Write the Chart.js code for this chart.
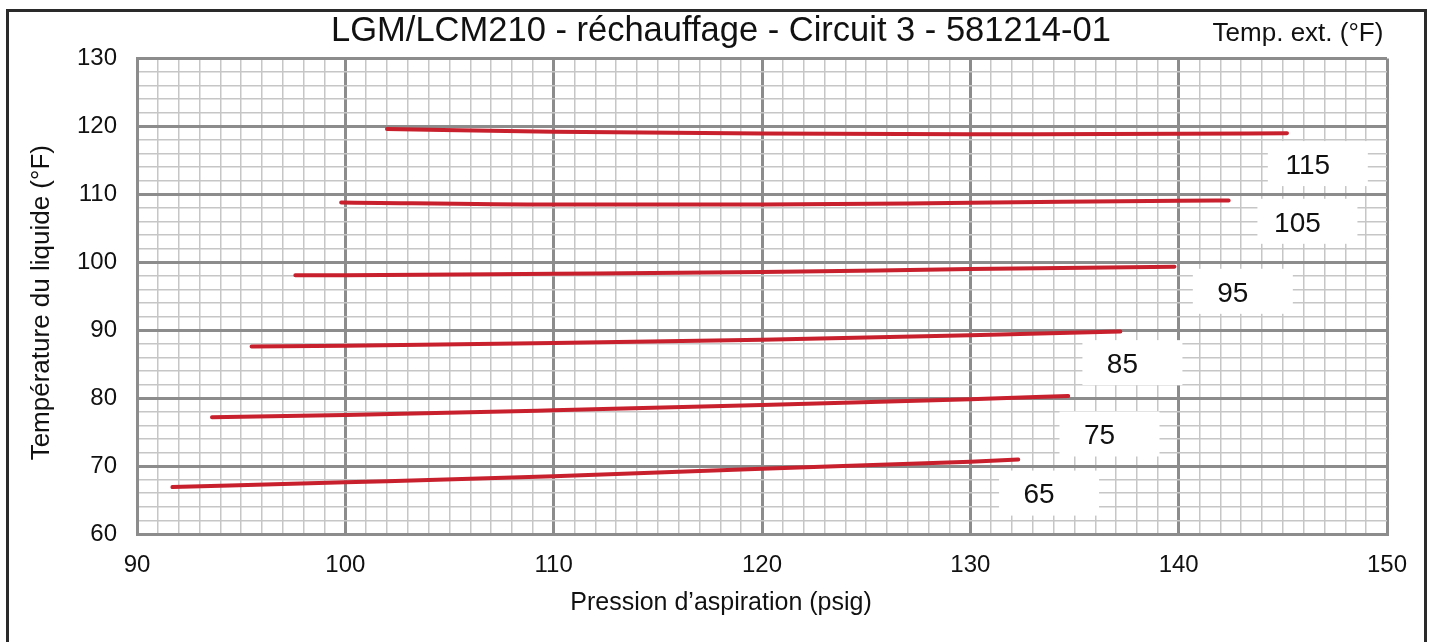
<!DOCTYPE html>
<html>
<head>
<meta charset="utf-8">
<script src="https://cdn.jsdelivr.net/npm/chart.js@4"></script>
<style>
  body { margin: 0; background: #fff; }
  #wrap { width: 1434px; height: 642px; }
</style>
</head>
<body>
<div id="wrap"><canvas id="myChart" width="1434" height="642"></canvas></div>
<script>
// curves: suction pressure (psig) -> liquid temperature (°F)
const p65 = [91.7, 100, 110, 120, 130, 132.3];
const t65 = [66.9, 67.6, 68.5, 69.6, 70.65, 70.95];
const p75 = [93.6, 100, 110, 120, 130, 134.7];
const t75 = [77.2, 77.5, 78.2, 79.0, 79.85, 80.3];
const p85 = [95.5, 100, 110, 120, 130, 137.2];
const t85 = [87.6, 87.7, 88.1, 88.6, 89.25, 89.8];
const p95 = [97.6, 100, 110, 120, 130, 139.8];
const t95 = [98.1, 98.1, 98.3, 98.55, 99.0, 99.35];
const p105 = [99.8, 110, 120, 130, 140, 142.4];
const t105 = [108.8, 108.5, 108.5, 108.75, 109.05, 109.1];
const p115 = [102.0, 110, 120, 130, 140, 145.2];
const t115 = [119.6, 119.2, 118.95, 118.85, 118.9, 119.0];

// outdoor temperature tags and where they sit (data units)
const tagNames = ['65', '75', '85', '95', '105', '115'];
const tagX = [133.3, 136.2, 137.3, 142.6, 145.7, 146.2];
const tagY = [65.8, 74.5, 85.0, 95.5, 105.8, 114.3];

const FONT = "'Liberation Sans', Arial, sans-serif";
const RED = '#c8202d';
const MAJOR = '#8c8c8c';
const MINOR = '#c6c6c6';

function zip(xs, ys) {
    return xs.map((x, i) => ({ x: x, y: ys[i] }));
}

function curve(xs, ys) {
    return {
        data: zip(xs, ys),
        borderColor: RED,
        borderWidth: 4,
        borderCapStyle: 'round',
        pointRadius: 0,
        cubicInterpolationMode: 'monotone',
        fill: false
    };
}

const isMajor = (v) => Math.abs(v % 10) < 1e-6;

// frame, the "Temp. ext." caption and the white tag boxes
const extras = {
    id: 'extras',
    beforeDraw(chart) {
        const c = chart.ctx;
        c.save();
        c.fillStyle = '#fff';
        c.fillRect(0, 0, chart.width, chart.height);
        c.strokeStyle = '#2a2a2a';
        c.lineWidth = 3;
        c.strokeRect(7.5, 10.5, 1418, 640);
        c.fillStyle = '#111';
        c.font = '26px ' + FONT;
        c.textAlign = 'center';
        c.textBaseline = 'middle';
        c.fillText('Temp. ext. (°F)', 1298, 34);
        c.restore();
    },
    beforeDatasetsDraw(chart) {
        const c = chart.ctx;
        const xs = chart.scales.x, ys = chart.scales.y;
        c.save();
        c.font = '28px ' + FONT;
        c.textAlign = 'center';
        c.textBaseline = 'middle';
        tagNames.forEach((name, i) => {
            const px = xs.getPixelForValue(tagX[i]);
            const py = ys.getPixelForValue(tagY[i]);
            c.fillStyle = '#fff';
            c.fillRect(px - 40, py - 24, 100, 45);
            c.fillStyle = '#111';
            c.fillText(name, px, py + 1);
        });
        c.restore();
    }
};

const ctx = document.getElementById('myChart').getContext('2d');
const myChart = new Chart(ctx, {
    type: 'line',
    data: {
        datasets: [
            curve(p65, t65),
            curve(p75, t75),
            curve(p85, t85),
            curve(p95, t95),
            curve(p105, t105),
            curve(p115, t115)
        ]
    },
    options: {
        responsive: false,
        animation: false,
        layout: { padding: { left: 8, right: 0, top: 0, bottom: 0 } },
        plugins: {
            legend: { display: false },
            tooltip: { enabled: false },
            title: {
                display: true,
                text: 'LGM/LCM210 - réchauffage - Circuit 3 - 581214-01',
                color: '#111',
                font: { family: FONT, size: 34.5, weight: 'normal' },
                padding: { top: 11, bottom: 6 }
            },
            subtitle: {
                display: true,
                position: 'bottom',
                text: 'Pression d’aspiration (psig)',
                color: '#111',
                font: { family: FONT, size: 25, weight: 'normal' },
                padding: { top: 0, bottom: 24 }
            }
        },
        scales: {
            x: {
                type: 'linear',
                min: 90,
                max: 150,
                afterFit: (s) => { s.height = 54; },
                border: { color: MAJOR, width: 3 },
                grid: {
                    drawTicks: false,
                    color: (c) => isMajor(c.tick.value) ? MAJOR : MINOR,
                    lineWidth: (c) => isMajor(c.tick.value) ? 3 : 1.5
                },
                ticks: {
                    stepSize: 1,
                    autoSkip: false,
                    maxRotation: 0,
                    padding: 17,
                    color: '#111',
                    font: { family: FONT, size: 24 },
                    callback: (v) => isMajor(v) ? v : ''
                }
            },
            y: {
                min: 60,
                max: 130,
                afterFit: (s) => { s.width = 129; },
                border: { color: MAJOR, width: 3 },
                grid: {
                    drawTicks: false,
                    color: (c) => isMajor(c.tick.value) ? MAJOR : MINOR,
                    lineWidth: (c) => isMajor(c.tick.value) ? 3 : 1.5
                },
                ticks: {
                    stepSize: 2,
                    autoSkip: false,
                    padding: 20,
                    color: '#111',
                    font: { family: FONT, size: 24 },
                    callback: (v) => isMajor(v) ? v : ''
                },
                title: {
                    display: true,
                    text: 'Température du liquide (°F)\u2002',
                    color: '#111',
                    font: { family: FONT, size: 26 },
                    padding: { top: 18, bottom: 0 }
                }
            },
            // empty strip on the right, keeps the plot narrower than the titles
            right: {
                position: 'right',
                min: 0,
                max: 1,
                afterFit: (s) => { s.width = 47; },
                border: { display: false },
                grid: { display: false, drawTicks: false },
                ticks: { display: false }
            }
        }
    },
    plugins: [extras]
});
</script>
</body>
</html>
